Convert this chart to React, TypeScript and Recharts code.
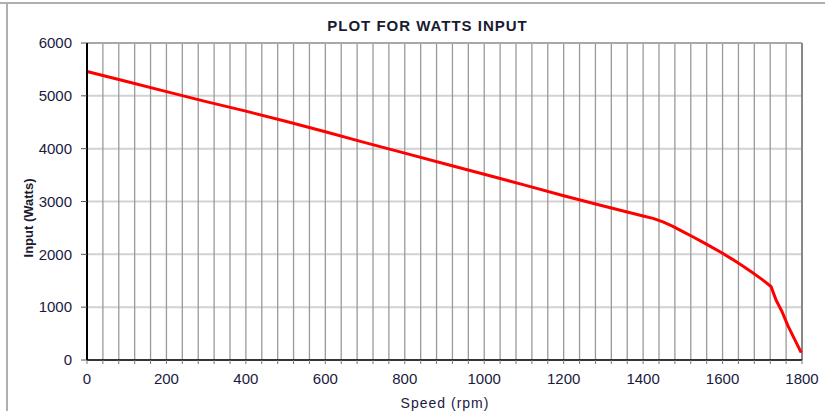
import React from 'react';
import { LineChart, Line, XAxis, YAxis, CartesianGrid, ReferenceLine } from 'recharts';

const speedRpm = [0, 100, 200, 300, 400, 500, 600, 700, 800, 900, 1000, 1100, 1200, 1300, 1400, 1425, 1450, 1475, 1500, 1525, 1550, 1575, 1600, 1625, 1650, 1675, 1700, 1722, 1735, 1750, 1765, 1798];
const inputWatts = [5460, 5270, 5080, 4890, 4710, 4520, 4320, 4115, 3915, 3715, 3515, 3315, 3110, 2915, 2725, 2680, 2615, 2530, 2430, 2332, 2232, 2128, 2020, 1905, 1783, 1655, 1522, 1392, 1130, 910, 640, 140];

const xMajorTicks = [0, 200, 400, 600, 800, 1000, 1200, 1400, 1600, 1800];
const xGridStep = 40;
const yTicks = [0, 1000, 2000, 3000, 4000, 5000, 6000];

const xAllTicks: number[] = [];
for (let v = 0; v <= 1800; v += xGridStep) xAllTicks.push(v);

const data = speedRpm.map((s, i) => ({ speed: s, watts: inputWatts[i] }));

const FONT = '"Liberation Sans", Arial, sans-serif';

const XTick = (props: any) => {
  const { x, y, payload } = props;
  if (!xMajorTicks.includes(payload.value)) return <g />;
  return (
    <text x={x} y={y} dy="0.71em" textAnchor="middle" fontSize={15} fontFamily={FONT} fill="#1a1a40">
      {payload.value}
    </text>
  );
};

export default function App() {
  return (
    <div style={{ position: 'fixed', left: 0, top: 0, width: 825, height: 411, background: '#fff', overflow: 'hidden' }}>
      <div style={{ position: 'absolute', left: 0, top: 2, width: 825, height: 2, background: '#b0b0b0' }} />
      <div style={{ position: 'absolute', left: 6, top: 3, width: 2, height: 408, background: '#b0b0b0' }} />
      <div style={{ position: 'absolute', left: 0, top: 0 }}>
        <LineChart width={825} height={411} data={data} margin={{ top: 43, right: 23, bottom: 21, left: 0 }}>
          <CartesianGrid horizontal={true} vertical={false} stroke="#d2d2d2" strokeWidth={2} />
          <CartesianGrid horizontal={false} vertical={true} stroke="#9a9a9a" strokeWidth={1.3} />
          <XAxis
            dataKey="speed"
            type="number"
            domain={[0, 1800]}
            ticks={xAllTicks}
            interval={0}
            height={30}
            tick={<XTick />}
            tickSize={4}
            tickMargin={9}
            tickLine={{ stroke: '#777' }}
            axisLine={{ stroke: '#000', strokeWidth: 1.5 }}
          />
          <YAxis
            type="number"
            domain={[0, 6000]}
            ticks={yTicks}
            interval={0}
            width={87}
            tickSize={6}
            tickMargin={9}
            tick={{ fontSize: 15, fontFamily: FONT, fill: '#1a1a40' }}
            tickLine={{ stroke: '#555' }}
            axisLine={{ stroke: '#000', strokeWidth: 2 }}
          />
          <ReferenceLine y={6000} stroke="#a8a8a8" strokeWidth={2} />
          <ReferenceLine x={1800} stroke="#888" strokeWidth={2} />
          <Line
            type="linear"
            dataKey="watts"
            stroke="#ff0000"
            strokeWidth={3}
            dot={false}
            isAnimationActive={false}
          />
        </LineChart>
      </div>
      <div
        style={{
          position: 'absolute',
          left: 0,
          width: 855,
          top: 17,
          textAlign: 'center',
          fontFamily: FONT,
          fontWeight: 'bold',
          fontSize: 15,
          letterSpacing: 1,
          color: '#1a1a30',
        }}
      >
        PLOT FOR WATTS INPUT
      </div>
      <div
        style={{
          position: 'absolute',
          left: 28,
          top: 218,
          transform: 'translate(-50%, -50%) rotate(-90deg)',
          whiteSpace: 'nowrap',
          fontFamily: FONT,
          fontWeight: 'bold',
          fontSize: 13,
          color: '#1a1a30',
        }}
      >
        Input (Watts)
      </div>
      <div
        style={{
          position: 'absolute',
          left: 445,
          top: 403,
          transform: 'translate(-50%, -50%)',
          whiteSpace: 'nowrap',
          fontFamily: FONT,
          fontSize: 14,
          letterSpacing: 1,
          color: '#1a1a40',
        }}
      >
        Speed (rpm)
      </div>
    </div>
  );
}
